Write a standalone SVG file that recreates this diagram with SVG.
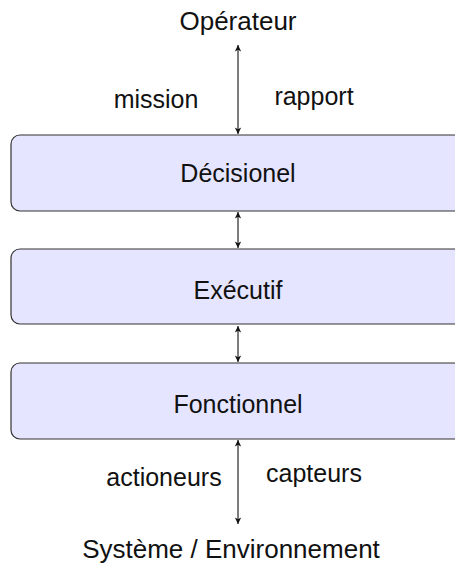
<svg xmlns="http://www.w3.org/2000/svg" width="455" height="567" viewBox="0 0 455 567">
<style>
.box{fill:#e5e5ff;stroke:#333;stroke-width:1.2}
.t{font-family:"Liberation Sans",Arial,sans-serif;fill:#111;text-anchor:middle}
.big{font-size:26px}
.lab{font-size:25px}
.sm{font-size:25px}
.c{stroke:#111;stroke-width:1.1;fill:none;marker-start:url(#a);marker-end:url(#a)}
</style>
<defs>
<marker id="a" viewBox="0 0 10 10" refX="9" refY="5" markerWidth="8" markerHeight="8" orient="auto-start-reverse" markerUnits="userSpaceOnUse">
<path d="M1,1 L9,5 L1,9 L3,5 Z" fill="#111"/>
</marker>
</defs>
<rect width="455" height="567" fill="#fff"/>
<g id="connectors">
<line class="c" x1="238" y1="45" x2="238" y2="134"/>
<line class="c" x1="238" y1="212" x2="238" y2="248"/>
<line class="c" x1="238" y1="326" x2="238" y2="362"/>
<line class="c" x1="238" y1="440" x2="238" y2="524"/>
</g>
<g id="operateur"><text class="t big" x="238" y="30">Opérateur</text></g>
<g id="mission"><text class="t sm" x="156" y="108">mission</text></g>
<g id="rapport"><text class="t sm" x="314" y="105">rapport</text></g>
<g id="decisionel"><rect class="box" x="11" y="135" width="455" height="76" rx="9"/><text class="t lab" x="238" y="182">Décisionel</text></g>
<g id="executif"><rect class="box" x="11" y="249" width="455" height="75" rx="9"/><text class="t lab" x="238" y="299">Exécutif</text></g>
<g id="fonctionnel"><rect class="box" x="11" y="363" width="455" height="76" rx="9"/><text class="t lab" x="238" y="413">Fonctionnel</text></g>
<g id="actioneurs"><text class="t sm" x="164" y="486">actioneurs</text></g>
<g id="capteurs"><text class="t sm" x="314" y="482">capteurs</text></g>
<g id="systeme"><text class="t big" x="231" y="558">Système / Environnement</text></g>
</svg>
